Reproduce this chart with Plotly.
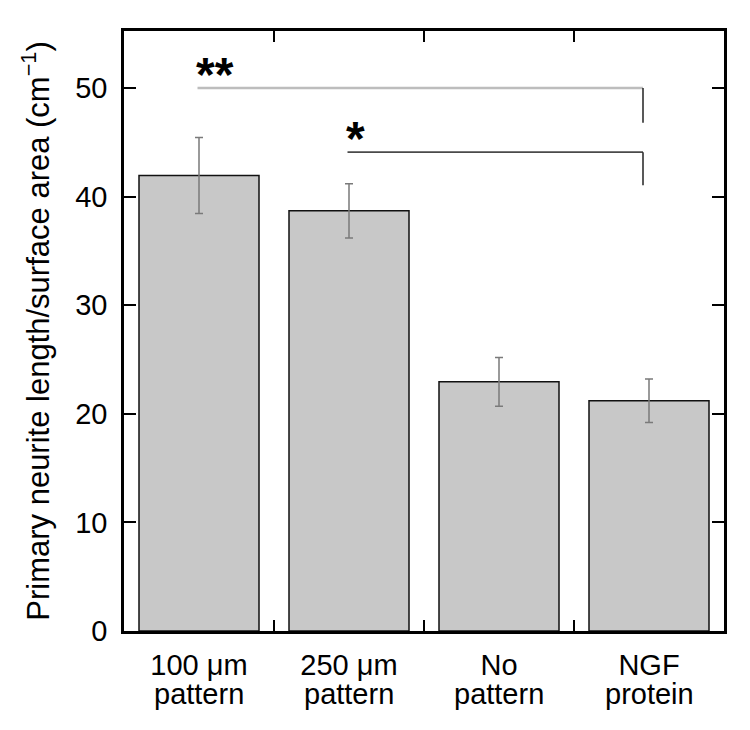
import plotly.graph_objects as go

cat_line1 = ["100 μm", "250 μm", "No", "NGF"]
cat_line2 = ["pattern", "pattern", "pattern", "protein"]
values = [41.95, 38.7, 22.95, 21.2]
errors = [3.5, 2.5, 2.25, 2.0]

# significance brackets
sig_start = [0, 1]
sig_end = [3, 3]
sig_level = [50.0, 44.1]
sig_drop = [46.8, 41.05]
sig_label = ["**", "*"]
sig_label_x = [0.107, 1.04]
sig_label_y = [51.85, 45.9]
sig_color = ["#bdbdbd", "#4a4a4a"]
sig_width = [2.5, 1.8]

yticks = [0, 10, 20, 30, 40, 50]

FONT = "Liberation Sans, Arial, sans-serif"
cats = list(range(len(cat_line1)))

fig = go.Figure()
fig.add_trace(go.Bar(
    x=cats,
    y=values,
    width=0.8,
    marker=dict(color="#c8c8c8", line=dict(color="#111111", width=1.5)),
    error_y=dict(type="data", array=errors, color="#7a7a7a", thickness=1.5, width=4),
    showlegend=False,
))

for s, e, lvl, drop, lab, lx, ly, col, w in zip(sig_start, sig_end, sig_level, sig_drop,
                                                sig_label, sig_label_x, sig_label_y, sig_color, sig_width):
    fig.add_shape(type="line", xref="x", yref="y", x0=s - 0.01, x1=e - 0.04, y0=lvl, y1=lvl,
                  line=dict(color=col, width=w))
    fig.add_shape(type="line", xref="x", yref="y", x0=e - 0.04, x1=e - 0.04, y0=lvl, y1=drop,
                  line=dict(color="#222222", width=1.5))
    fig.add_annotation(x=lx, y=ly, xref="x", yref="y", text="<b>" + lab + "</b>",
                       showarrow=False, yanchor="middle", yshift=-6,
                       font=dict(size=48, color="black", family=FONT))

for c, t in zip(cats, cat_line2):
    fig.add_annotation(x=c, y=0, xref="x", yref="paper", text=t, showarrow=False,
                       yanchor="top", yshift=-45, font=dict(size=29, color="black", family=FONT))

fig.update_layout(
    width=742, height=722,
    margin=dict(l=116, r=26, t=23, b=99),
    paper_bgcolor="white", plot_bgcolor="white",
    font=dict(family=FONT, color="black"),
)
fig.update_xaxes(
    range=[-0.5, 3.5],
    tickmode="array", tickvals=cats, ticktext=cat_line1,
    tickfont=dict(size=29), ticklabelstandoff=6,
    ticks="", showline=True, linecolor="black", linewidth=2.5, mirror=True,
    showgrid=False, zeroline=False,
)
fig.update_layout(xaxis2=dict(overlaying="x", range=[-0.5, 3.5], tickvals=[0.5, 1.5, 2.5],
                              ticks="inside", ticklen=11, tickwidth=2, tickcolor="black",
                              showticklabels=False, showgrid=False, zeroline=False,
                              side="bottom", anchor="y"),
                  xaxis3=dict(overlaying="x", range=[-0.5, 3.5], tickvals=[0.5, 1.5, 2.5],
                              ticks="inside", ticklen=11, tickwidth=2, tickcolor="black",
                              showticklabels=False, showgrid=False, zeroline=False,
                              side="top", anchor="y"))
fig.add_trace(go.Scatter(x=[0], y=[0], xaxis="x2", mode="markers", marker=dict(opacity=0),
                         showlegend=False, hoverinfo="skip"))
fig.add_trace(go.Scatter(x=[0], y=[0], xaxis="x3", mode="markers", marker=dict(opacity=0),
                         showlegend=False, hoverinfo="skip"))
fig.update_yaxes(
    range=[0, 55.26],
    tickvals=yticks, tickfont=dict(size=29), ticklabelstandoff=8,
    ticks="inside", ticklen=12, tickwidth=2, tickcolor="black",
    showline=True, linecolor="black", linewidth=2.5, mirror="ticks",
    showgrid=False, zeroline=False,
    title=dict(text="Primary neurite length/surface area (cm<sup>−1</sup>)", font=dict(size=31), standoff=17),
)

fig.write_html("out.html")
